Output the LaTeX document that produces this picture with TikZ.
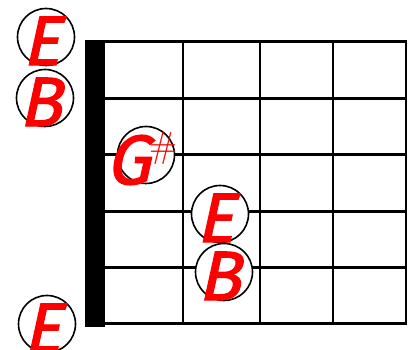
\documentclass[tikz,border=0pt]{standalone}
\usepackage{fontspec}
\newfontfamily\notefont[FakeSlant=0.22,FakeBold=1.8]{Fira Sans}
\begin{document}
\begin{tikzpicture}[x=1pt,y=-1pt,
  notecirc/.style={circle,draw,line width=1.6pt,fill=white,minimum size=57pt,inner sep=0pt},
  notetxt/.style={text=red,font=\notefont\fontsize{70}{70}\selectfont,inner sep=0pt}]
\useasboundingbox (0,0) rectangle (416,350);
% nut, strings and frets
\fill (85,40) rectangle (105,327);
\foreach \y in {42,98.4,154.8,211.2,267.6,324}
  \draw[line width=3pt] (104,\y) -- (407,\y);
\foreach \x in {183,260,333,406}
  \draw[line width=2.5pt] (\x,42) -- (\x,324);
% notes
\foreach \nm/\x/\y/\lbl in {e1/46/37/E,b1/45/98/B,e2/220/214/E,b2/224/272/B,e3/47/324/E}{
  \node[notecirc] (\nm) at (\x,\y) {};
  \node[notetxt] (\nm-txt) at ([xshift=-5pt,yshift=-4pt]\nm) {\lbl};
}
\node[notecirc] (gs) at (146,155) {};
\node[notetxt] (gs-txt) at ([xshift=-18pt,yshift=-5pt]gs) {G};
\node[text=red,font=\fontsize{36}{36}\selectfont,inner sep=0pt] (gs-sharp) at (163,149) {\#};
\end{tikzpicture}
\end{document}
